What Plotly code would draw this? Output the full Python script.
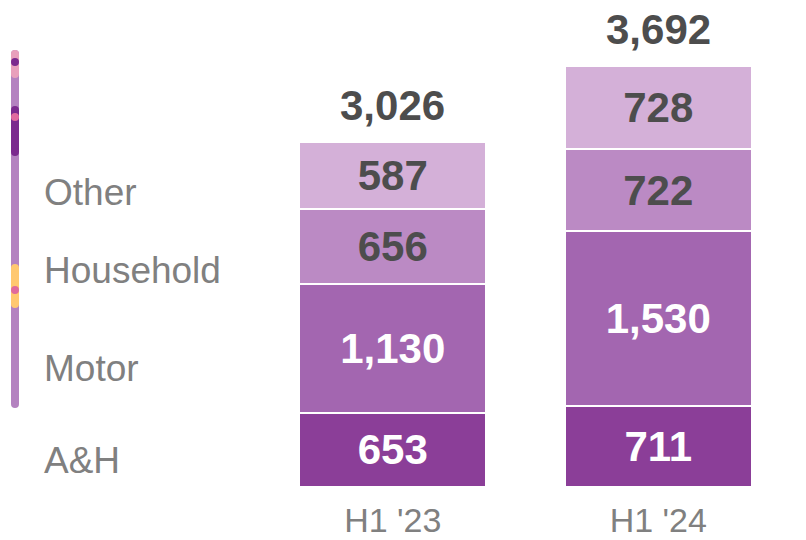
import plotly.graph_objects as go

categories = ["H1 '23", "H1 '24"]
segments = ["A&H", "Motor", "Household", "Other"]
values = {
    "A&H": [653, 711],
    "Motor": [1130, 1530],
    "Household": [656, 722],
    "Other": [587, 728],
}
totals = [3026, 3692]
colors = {"A&H": "#8B3E98", "Motor": "#A366B0", "Household": "#BB8AC4", "Other": "#D4B0D8"}
text_colors = {"A&H": "white", "Motor": "white", "Household": "#4D4D4D", "Other": "#4D4D4D"}
left_labels = ["Other", "Household", "Motor", "A&H"]
left_label_y = [192, 270, 368, 460]

W, H = 806, 540
# plot area in window pixels: x 260..791, y 10..487
L, R, T, B = 260, 806 - 791, 10, 540 - 487
pw, ph = W - L - R, H - T - B
FONT = "Liberation Sans, Arial, sans-serif"

fig = go.Figure()
for s in segments:
    fig.add_trace(go.Bar(
        x=categories, y=values[s], name=s,
        marker=dict(color=colors[s], line=dict(color="white", width=2)),
        text=[f"<b>{v:,}</b>" for v in values[s]],
        textposition="inside", insidetextanchor="middle",
        textfont=dict(family=FONT, size=42, color=text_colors[s]),
        hoverinfo="skip",
    ))

for c, t in zip(categories, totals):
    fig.add_annotation(x=c, y=t, text=f"<b>{t:,}</b>", showarrow=False,
                       yanchor="bottom", yshift=11,
                       font=dict(family=FONT, size=42, color="#4D4D4D"))

# window pixel -> paper
def px_x(x):
    return (x - L) / pw

def px_y(y):
    return (H - B - y) / ph

for lab, yy in zip(left_labels, left_label_y):
    fig.add_annotation(xref="paper", yref="paper", x=px_x(42), y=px_y(yy), text=lab,
                       showarrow=False, xanchor="left", yanchor="middle",
                       font=dict(family=FONT, size=37, color="#808080"))

# decorative vertical bar
def dot(yc, color, w=8, xc=15):
    fig.add_shape(type="circle", xref="paper", yref="paper",
                  x0=px_x(xc - w / 2), x1=px_x(xc + w / 2), y0=px_y(yc + w / 2), y1=px_y(yc - w / 2),
                  fillcolor=color, line=dict(width=0), layer="above")

def vseg(y0, y1, color, w=8, xc=15):
    fig.add_shape(type="rect", xref="paper", yref="paper",
                  x0=px_x(xc - w / 2), x1=px_x(xc + w / 2), y0=px_y(y1 - w / 2), y1=px_y(y0 + w / 2),
                  fillcolor=color, line=dict(width=0), layer="above")
    dot(y0 + w / 2, color, w, xc)
    dot(y1 - w / 2, color, w, xc)

vseg(50, 408, "#B482C0")
vseg(50, 78, "#E8A0BC")
dot(62, "#7B2A8E")
vseg(106, 156, "#7B2A8E")
dot(117, "#E06A9E")
vseg(264, 308, "#FFC870")
dot(290, "#E06A9E")

fig.update_layout(
    width=W, height=H, barmode="stack", bargap=0.296,
    margin=dict(l=L, r=R, t=T, b=B, autoexpand=False),
    plot_bgcolor="white", paper_bgcolor="white", showlegend=False,
    xaxis=dict(range=[-0.5, 1.5], showgrid=False, zeroline=False, showline=False,
               ticks="", ticklabelstandoff=10, automargin=False,
               tickfont=dict(family=FONT, size=34, color="#808080")),
    yaxis=dict(range=[0, 4183], visible=False, automargin=False),
)
fig.write_html("out.html", config={"displayModeBar": False},
               post_script="document.body.style.margin='0';document.body.style.overflow='hidden';")
